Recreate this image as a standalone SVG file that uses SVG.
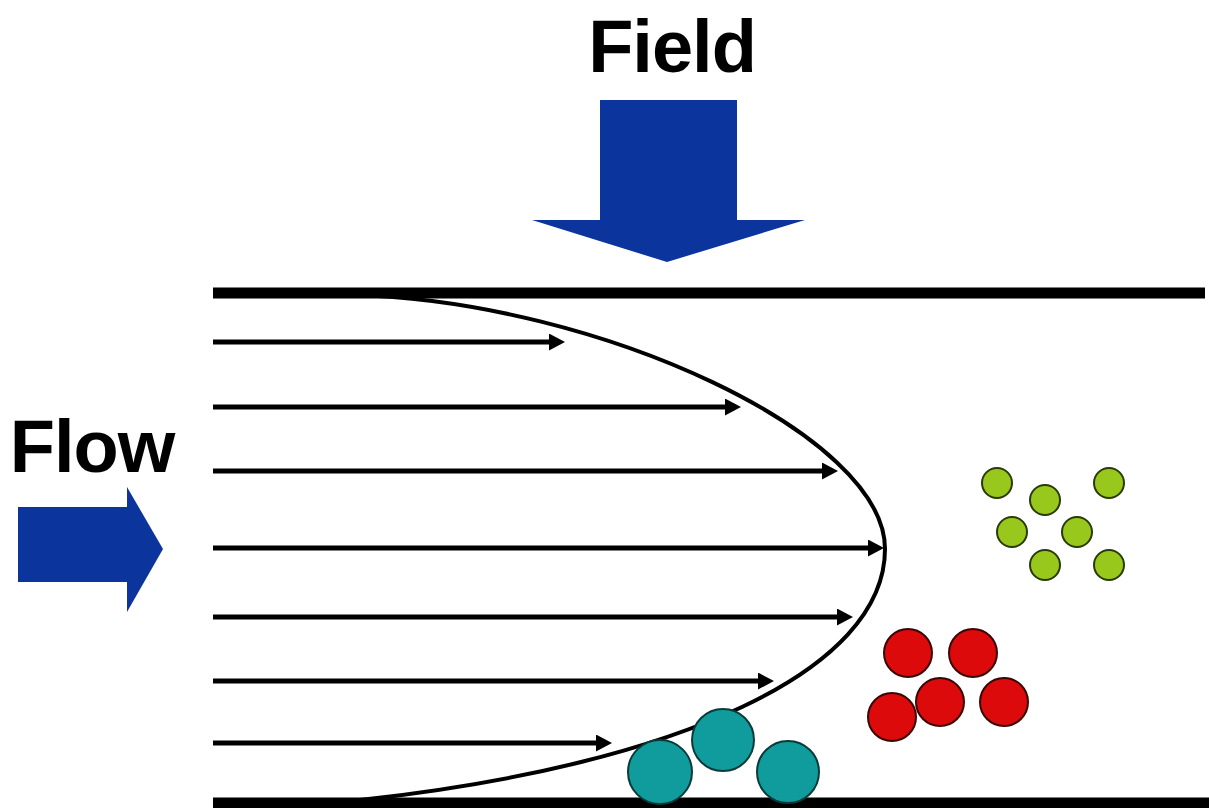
<svg xmlns="http://www.w3.org/2000/svg" width="1209" height="808" viewBox="0 0 1209 808">
  <defs>
    <!-- arrowhead: tip sits 10px past the end of the line so the stroke butt stays hidden -->
    <marker id="head" viewBox="0 0 16 17" refX="6" refY="8.5" markerWidth="16" markerHeight="17" markerUnits="userSpaceOnUse" orient="auto">
      <path d="M0,0 L16,8.5 L0,17 Z" fill="#000"/>
    </marker>
    <style>
      .label { font-family: "Liberation Sans", Arial, sans-serif; font-weight: bold; font-size: 74px; fill: #000; }
      .big { fill: #0b359c; }
      .wall { stroke: #000; stroke-width: 11; }
      .vec { stroke: #000; stroke-width: 5; fill: none; marker-end: url(#head); }
      .profile { stroke: #000; stroke-width: 4; fill: none; }
      .teal { fill: #109c9c; stroke: #0a3b3b; stroke-width: 2; }
      .red { fill: #dc0a0a; stroke: #3a0505; stroke-width: 2; }
      .green { fill: #99c81c; stroke: #2a3a08; stroke-width: 2; }
    </style>
  </defs>
  <rect width="1209" height="808" fill="#fff"/>

  <!-- labels and big arrows -->
  <g id="field">
    <text class="label" x="672" y="72" text-anchor="middle" letter-spacing="-1">Field</text>
    <path class="big" d="M600,100 H737 V220 H805 L667,262 L532,220 H600 Z"/>
  </g>
  <g id="flow">
    <text class="label" x="92" y="472" text-anchor="middle" letter-spacing="-1">Flow</text>
    <path class="big" d="M18,507 H127 V487 L163,549 L127,612 V582 H18 Z"/>
  </g>

  <!-- channel walls -->
  <g id="walls">
    <line class="wall" x1="213" y1="293" x2="1205" y2="293"/>
    <line class="wall" x1="213" y1="803" x2="1209" y2="803"/>
  </g>

  <!-- velocity vectors and parabolic profile -->
  <g id="connectors">
    <line class="vec" x1="213" y1="342" x2="555" y2="342"/>
    <line class="vec" x1="213" y1="407" x2="731" y2="407"/>
    <line class="vec" x1="213" y1="471" x2="828" y2="471"/>
    <line class="vec" x1="213" y1="548" x2="874" y2="548"/>
    <line class="vec" x1="213" y1="617" x2="843" y2="617"/>
    <line class="vec" x1="213" y1="681" x2="764" y2="681"/>
    <line class="vec" x1="213" y1="743" x2="602" y2="743"/>
    <path class="profile" d="M355,295 C600,302 885,435 885,549 C885,670 680,765 360,800"/>
  </g>

  <!-- particles -->
  <g id="particles-large">
    <circle class="teal" cx="660" cy="772" r="32"/>
    <circle class="teal" cx="723" cy="740" r="31"/>
    <circle class="teal" cx="788" cy="772" r="31"/>
  </g>
  <g id="particles-medium">
    <circle class="red" cx="908" cy="653" r="24"/>
    <circle class="red" cx="973" cy="653" r="24"/>
    <circle class="red" cx="892" cy="717" r="24"/>
    <circle class="red" cx="940" cy="702" r="24"/>
    <circle class="red" cx="1004" cy="702" r="24"/>
  </g>
  <g id="particles-small">
    <circle class="green" cx="997" cy="483" r="15"/>
    <circle class="green" cx="1109" cy="483" r="15"/>
    <circle class="green" cx="1045" cy="500" r="15"/>
    <circle class="green" cx="1012" cy="532" r="15"/>
    <circle class="green" cx="1077" cy="532" r="15"/>
    <circle class="green" cx="1045" cy="565" r="15"/>
    <circle class="green" cx="1109" cy="565" r="15"/>
  </g>
</svg>
